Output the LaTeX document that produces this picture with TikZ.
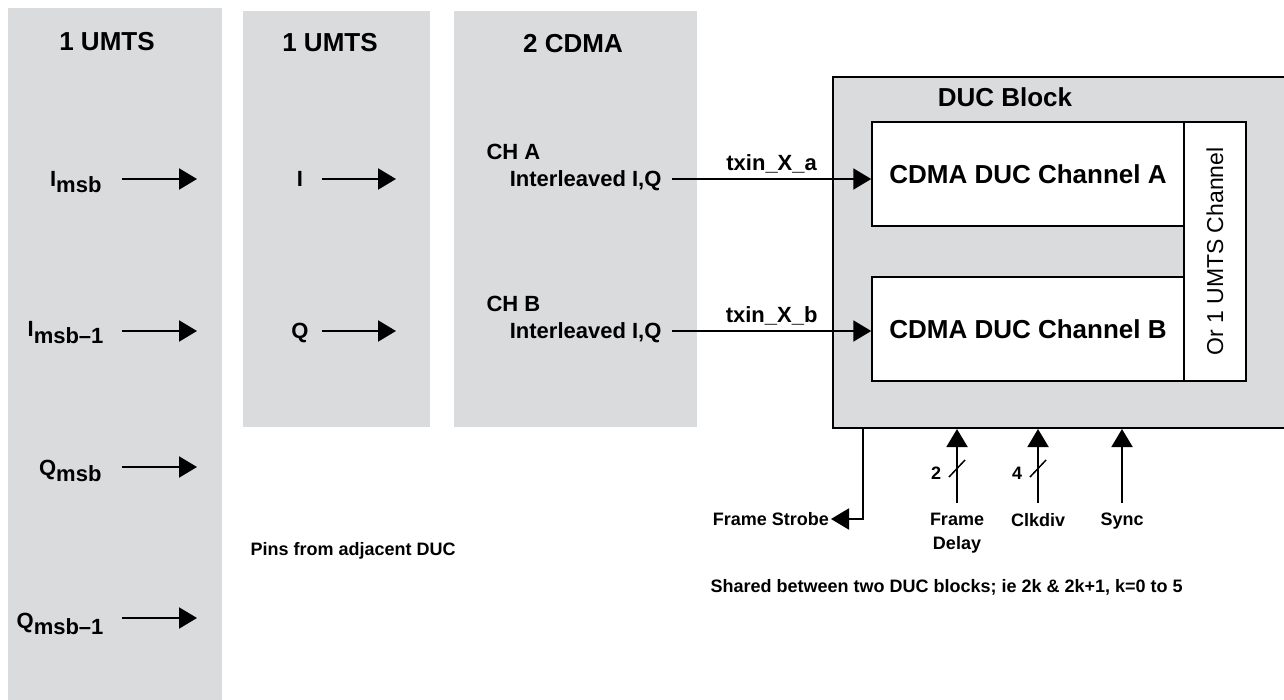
\documentclass[tikz,border=0pt]{standalone}
\usepackage{fontspec}
\setmainfont{Liberation Sans}
\usetikzlibrary{arrows.meta, positioning}
\definecolor{panelgray}{RGB}{218,219,221}

\begin{document}
\begin{tikzpicture}[
	x=1pt, y=-1pt,
	panel/.style={
		fill=panelgray,
		anchor=north west,
		inner sep=0pt
	},
	head/.style={
		font=\fontsize{26}{30}\selectfont\bfseries
	},
	lbl/.style={
		font=\fontsize{22}{26}\selectfont\bfseries
	},
	note/.style={
		font=\fontsize{18}{24}\selectfont\bfseries
	},
	chbox/.style={
		draw, line width=1.5pt, fill=white,
		inner sep=0pt,
		font=\fontsize{26}{30}\selectfont\bfseries
	},
	pin/.style={
		line width=2pt,
		-{Triangle[length=18pt,width=21pt]}
	}
	]
	\clip (0,0) rectangle (1284,700);
	\fill[white] (0,0) rectangle (1284,700);
	
	% source panels
	\node[panel, minimum width=214pt, minimum height=692pt] (umtsA) at (8,8) {};
	\node[panel, minimum width=187pt, minimum height=416pt] (umtsB) at (243,11) {};
	\node[panel, minimum width=243pt, minimum height=416pt] (cdma) at (454,11) {};
	\node[head] (umtsAh) at (107,42) {1 UMTS};
	\node[head] (umtsBh) at (330,43) {1 UMTS};
	\node[head] (cdmah) at (573,44) {2 CDMA};
	
	% pins of the first UMTS panel
	\node[lbl, anchor=base east] (imsb) at (105,187) {I\raisebox{-6pt}{msb}};
	\node[lbl, anchor=base east] (imsbm) at (107,337) {I\raisebox{-6pt}{msb–1}};
	\node[lbl, anchor=base east] (qmsb) at (105,475) {Q\raisebox{-6pt}{msb}};
	\node[lbl, anchor=base east] (qmsbm) at (107,628) {Q\raisebox{-6pt}{msb–1}};
	\coordinate (imsbE) at (197,179);
	\coordinate (imsbmE) at (197,331);
	\coordinate (qmsbE) at (197,467);
	\coordinate (qmsbmE) at (197,618);
	\draw[pin] ([xshift=-75pt]imsbE) -- (imsbE);
	\draw[pin] ([xshift=-75pt]imsbmE) -- (imsbmE);
	\draw[pin] ([xshift=-75pt]qmsbE) -- (qmsbE);
	\draw[pin] ([xshift=-75pt]qmsbmE) -- (qmsbmE);
	
	% pins of the second UMTS panel
	\node[lbl, anchor=base] (iin) at (300,187) {I};
	\node[lbl, anchor=base] (qin) at (300,338) {Q};
	\coordinate (iinE) at (396,179);
	\coordinate (qinE) at (396,331);
	\draw[pin] ([xshift=-74pt]iinE) -- (iinE);
	\draw[pin] ([xshift=-74pt]qinE) -- (qinE);
	
	% CDMA channels
	\node[lbl, anchor=base west] (cha) at (483,160) {CH A};
	\node[lbl, anchor=base east] (ila) at (665,187) {Interleaved I,Q};
	\node[lbl, anchor=base west] (chb) at (483,312) {CH B};
	\node[lbl, anchor=base east] (ilb) at (665,338) {Interleaved I,Q};
	
	% DUC block
	\node[panel, draw, line width=2pt, minimum width=470pt, minimum height=351pt] (duc) at (832,76) {};
	\node[head] (duch) at (1005,97) {DUC Block};
	\node[chbox, minimum width=312pt, minimum height=104pt] (chanA) at (1028,174) {CDMA DUC Channel A};
	\node[chbox, minimum width=312pt, minimum height=104pt] (chanB) at (1028,329) {CDMA DUC Channel B};
	\node[chbox, rotate=90, minimum width=259pt, minimum height=62pt,
		font=\fontsize{23}{28}\selectfont] (umtsch) at (1215,251.5) {Or 1 UMTS Channel};
	
	\coordinate (txa) at (672,179);
	\coordinate (txb) at (672,331);
	\draw[pin] (txa) -- node[lbl, above=1pt] (txal) {txin\_X\_a} (txa -| chanA.west);
	\draw[pin] (txb) -- node[lbl, above=1pt] (txbl) {txin\_X\_b} (txb -| chanB.west);
	
	% shared control pins
	\coordinate (fsout) at (863,427);
	\node[note, anchor=east, inner sep=2pt] (fstrobe) at (831,519) {Frame Strobe};
	\draw[pin] (fsout) |- (fstrobe.east);
	
	\node[note, align=center, anchor=north, inner sep=0pt] (fdelay) at (957,513) {Frame\\Delay};
	\node[note, anchor=north, inner sep=0pt] (clkdiv) at (1038,513) {Clkdiv};
	\node[note, anchor=north, inner sep=0pt] (sync) at (1122,513) {Sync};
	\draw[pin] ([yshift=10pt]fdelay.north) -- (fdelay.north |- duc.south);
	\draw[pin] ([yshift=10pt]clkdiv.north) -- (clkdiv.north |- duc.south);
	\draw[pin] ([yshift=10pt]sync.north) -- (sync.north |- duc.south);
	
	\coordinate (fdslash) at (957,469);
	\coordinate (ckslash) at (1038,469);
	\draw[line width=1.5pt] ([shift={(-8,8)}]fdslash) -- ([shift={(8,-9)}]fdslash);
	\draw[line width=1.5pt] ([shift={(-8,8)}]ckslash) -- ([shift={(8,-9)}]ckslash);
	\node[note] (fdbits) at (936,473) {2};
	\node[note] (ckbits) at (1017,473) {4};
	
	\node[note, anchor=base west] (pins) at (247,555) {Pins from adjacent DUC};
	\node[note, anchor=base west] (shared) at (707,592) {Shared between two DUC blocks; ie 2k \& 2k+1, k=0 to 5};
\end{tikzpicture}
\end{document}
